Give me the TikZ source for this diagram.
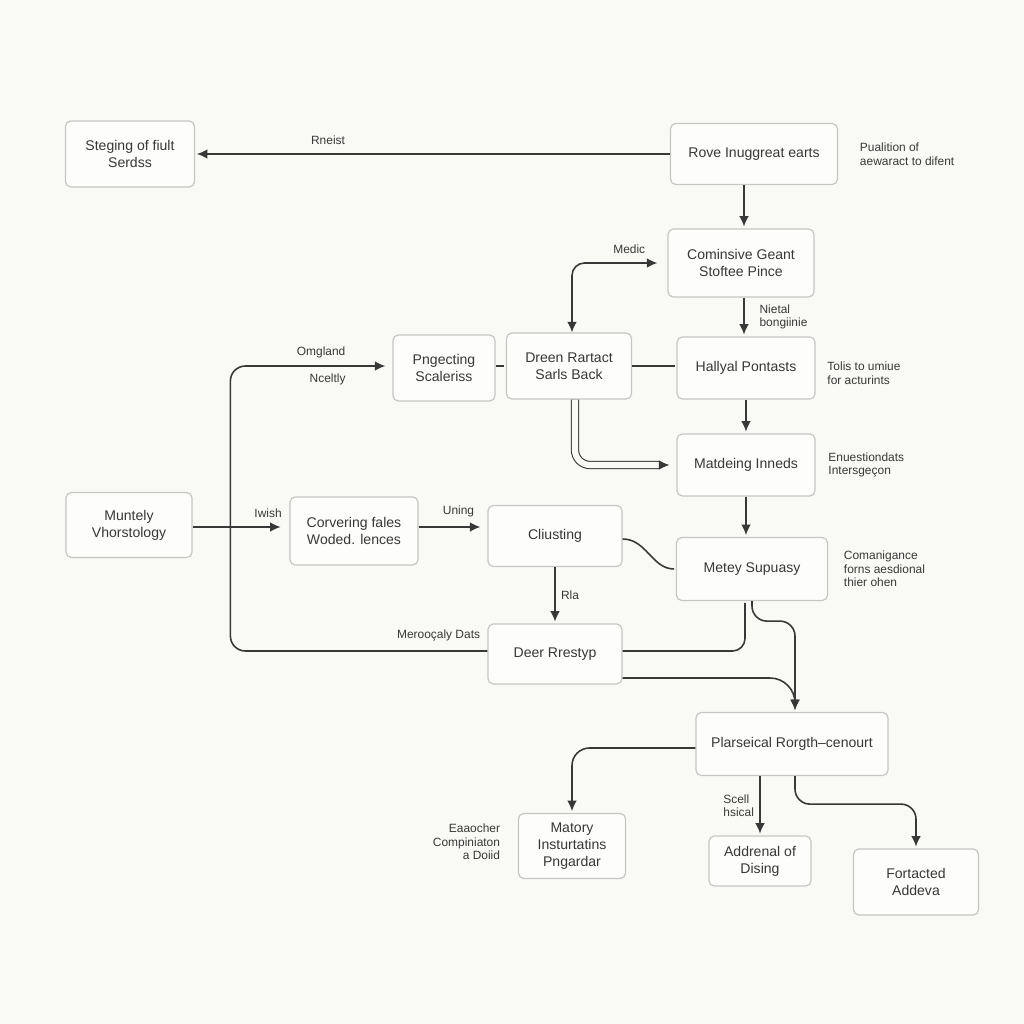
\documentclass[tikz,border=0pt]{standalone}
\usepackage{fontspec}
\setmainfont{Liberation Sans}
\usetikzlibrary{positioning,arrows.meta}
\definecolor{paper}{HTML}{F9F9F5}
\definecolor{ink}{HTML}{383838}
\definecolor{rim}{HTML}{C6C6C3}
\tikzset{
box/.style={draw=rim, line width=0.7pt, rounded corners=3pt, fill=white!60!paper, align=center, text=ink, font=\fontsize{8}{9.6}\selectfont, inner sep=2pt},
note/.style={text=ink, font=\fontsize{6.8}{7.8}\selectfont, inner sep=2pt, align=left},
tag/.style={note, inner sep=5pt},
link/.style={draw=ink, line width=0.9pt}
}
\begin{document}
\begin{tikzpicture}[x=0.02cm, y=-0.02cm, >={Latex[length=6pt,width=5.5pt]}, shorten >=1 pt, auto,
every edge/.style={link}]
\fill [paper] (0,0) rectangle (1024,1024);
\useasboundingbox (0,0) rectangle (1024,1024);
\node [box, minimum width=2.58cm, minimum height=1.32cm] (stage) at (130,154) {Steging of fiult\\Serdss};
\node [box, minimum width=3.34cm, minimum height=1.22cm] (rove) at (754,154) {Rove Inuggreat earts};
\node [box, minimum width=2.92cm, minimum height=1.36cm] (comb) at (741,263) {Cominsive Geant\\Stoftee Pince};
\node [box, minimum width=2.04cm, minimum height=1.32cm] (proj) at (444,368) {Pngecting\\Scaleriss};
\node [box, minimum width=2.5cm, minimum height=1.32cm] (dreen) at (569,366) {Dreen Rartact\\Sarls Back};
\node [box, minimum width=2.76cm, minimum height=1.24cm] (hall) at (746,368) {Hallyal Pontasts};
\node [box, minimum width=2.76cm, minimum height=1.24cm] (match) at (746,465) {Matdeing Inneds};
\node [box, minimum width=2.52cm, minimum height=1.3cm] (munt) at (129,525) {Muntely\\Vhorstology};
\node [box, minimum width=2.56cm, minimum height=1.36cm] (cover) at (354,531) {Corvering fales\\Woded. lences};
\node [box, minimum width=2.68cm, minimum height=1.22cm] (clust) at (555,536) {Cliusting};
\node [box, minimum width=3.02cm, minimum height=1.26cm] (metey) at (752,569) {Metey Supuasy};
\node [box, minimum width=2.68cm, minimum height=1.2cm] (deer) at (555,654) {Deer Rrestyp};
\node [box, minimum width=3.84cm, minimum height=1.26cm] (plars) at (792,744) {Plarseical Rorgth--cenourt};
\node [box, minimum width=2.14cm, minimum height=1.3cm] (matory) at (572,846) {Matory\\Insturtatins\\Pngardar};
\node [box, minimum width=2.04cm, minimum height=1cm] (addr) at (760,861) {Addrenal of\\Dising};
\node [box, minimum width=2.5cm, minimum height=1.32cm] (fort) at (916,882) {Fortacted\\Addeva};
\node [note, right=0.36cm of rove] (rove_n) {Pualition of\\aewaract to difent};
\node [note, right=0.16cm of hall, yshift=-0.1cm] (hall_n) {Tolis to umiue\\for acturints};
\node [note, right=0.18cm of match] (match_n) {Enuestiondats\\Intersgeçon};
\node [note, right=0.24cm of metey] (metey_n) {Comanigance\\forns aesdional\\thier ohen};
\node [note, left=0.28cm of matory, align=right, yshift=0.08cm] (matory_n) {Eaaocher\\Compiniaton\\a Doiid};
\path [->]
(rove) edge node [tag, above, pos=0.72] {Rneist} (stage)
([xshift=0.06cm]rove.south -| comb.north) edge ([xshift=0.06cm]comb.north)
([xshift=0.06cm]comb.south) edge node [tag, xshift=0.12cm] {Nietal\\bongiinie} ([xshift=0.06cm]comb.south |- hall.north)
(hall) edge (match)
(match.south) edge (match.south |- metey.north)
([yshift=-0.04cm]munt.east) edge [shorten >=5pt] node [tag, pos=0.78] {Iwish} ([yshift=-0.04cm]munt.east -| cover.west)
([yshift=0.08cm]cover.east) edge [shorten >=4pt] node [tag, pos=0.58] {Uning} ([yshift=0.08cm]cover.east -| clust.west)
(clust) edge node [tag, inner sep=3pt] {Rla} (deer)
(plars.south -| addr.north) edge node [tag, swap, inner sep=3pt] {Scell\\hsical} (addr.north);
\draw [<->, link, rounded corners=0.25cm, shorten >=0.2cm] ([xshift=0.06cm]dreen.north) |- node [tag, pos=0.8, above] {Medic} (comb.west);
\draw [link] (proj.east |- dreen) -- (dreen.west);
\draw [link] (dreen.east) -- (dreen.east -| hall.west);
\draw [->, link, line width=0.6pt, double=paper, double distance=3.5pt, rounded corners=0.3cm, shorten >=4pt] ([xshift=0.12cm]dreen.south) |- (match.west);
\draw [link] ([yshift=-0.06cm]clust.east) to [out=0, in=180] (metey.west);
\draw [->, link, rounded corners=0.3cm, shorten >=4pt] ([yshift=0.06cm]deer.west) -- node [tag, pos=0.19, above] {Merooçaly Dats} ++(-257,0) |- node [note, inner sep=4pt, pos=0.78, above] {Omgland} node [note, inner sep=4pt, pos=0.8, below] {Nceltly} (proj.west |- dreen);
\draw [link, rounded corners=0.25cm] ([yshift=0.06cm]deer.east) -| ([xshift=-0.14cm]metey.south);
\draw [->, link, rounded corners=0.3cm] (metey.south) -- ++(0,20) -| ([xshift=0.06cm]plars.north);
\draw [->, link, rounded corners=0.5cm] ([yshift=-0.48cm]deer.east) -| ([xshift=0.06cm]plars.north);
\draw [->, link, rounded corners=0.35cm] ([yshift=-0.08cm]plars.west) -| (matory.north);
\draw [->, link, rounded corners=0.3cm] ([xshift=0.06cm]plars.south) -- ++(0,28) -| (fort.north);
\end{tikzpicture}
\end{document}
